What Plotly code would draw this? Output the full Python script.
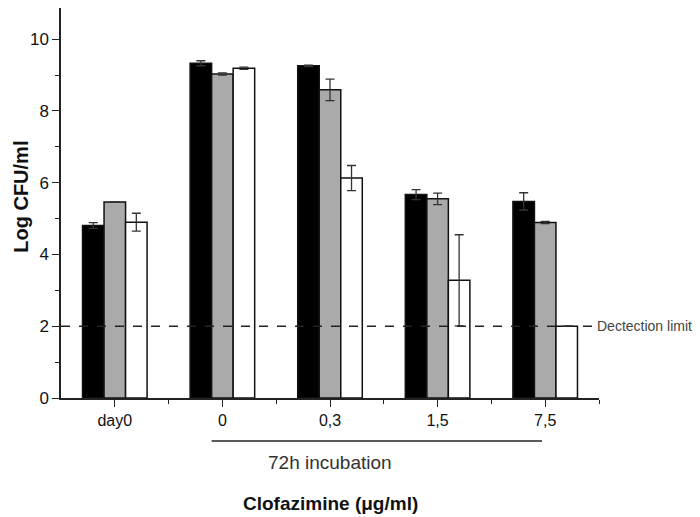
import plotly.graph_objects as go

categories = ["day0", "0", "0,3", "1,5", "7,5"]
black_vals = [4.81, 9.33, 9.26, 5.67, 5.48]
black_err = [0.08, 0.07, 0.02, 0.14, 0.24]
gray_vals = [5.46, 9.03, 8.59, 5.55, 4.89]
gray_err = [0.01, 0.03, 0.30, 0.16, 0.03]
white_vals = [4.90, 9.19, 6.13, 3.28, 2.00]
white_err = [0.25, 0.03, 0.35, 1.27, 0.0]
detection_limit = 2
y_ticks = [0, 2, 4, 6, 8, 10]

xpos = list(range(len(categories)))
FONT = "Arial, Liberation Sans, sans-serif"

# the page body adds an 8px margin, so the figure is sized to fit inside it
W, H = 692, 509
L, R, T, B = 53, 101, 0, 119
plot_h = H - T - B

fig = go.Figure()
for vals, errs, col in [(black_vals, black_err, "black"),
                        (gray_vals, gray_err, "#aaaaaa"),
                        (white_vals, white_err, "white")]:
    fig.add_trace(go.Bar(
        x=xpos, y=vals,
        marker=dict(color=col, line=dict(color="#111111", width=1.5)),
        error_y=dict(type="data", array=errs, visible=True,
                     color="#333333", thickness=1.3, width=4.5),
        showlegend=False,
    ))

fig.update_layout(
    width=W, height=H,
    margin=dict(l=L, r=R, t=T, b=B),
    paper_bgcolor="white", plot_bgcolor="white",
    barmode="group", bargap=0.4, bargroupgap=0,
    font=dict(family=FONT, color="#222222"),
)

fig.update_xaxes(
    range=[-0.5, 4.5], tickvals=xpos, ticktext=categories,
    tickfont=dict(size=16, color="#111111"),
    showline=True, linecolor="#222222", linewidth=1.5,
    ticks="outside", ticklen=7, tickwidth=1.3, tickcolor="#222222",
    minor=dict(tickvals=[0.5, 1.5, 2.5, 3.5, 4.5], ticks="outside",
               ticklen=4, tickwidth=1.3, tickcolor="#222222"),
    showgrid=False, zeroline=False,
)
fig.update_yaxes(
    range=[0, 10.87], tickvals=y_ticks,
    tickfont=dict(size=17, color="#111111"),
    showline=True, linecolor="#222222", linewidth=1.5,
    ticks="outside", ticklen=7, tickwidth=1.3, tickcolor="#222222",
    minor=dict(dtick=1, ticks="outside", ticklen=4, tickwidth=1.3,
               tickcolor="#222222"),
    showgrid=False, zeroline=False,
)

def py(pix):
    # pixel row in the figure -> paper y
    return 1 - (pix - T) / plot_h

# y-axis title
fig.add_annotation(xref="paper", yref="paper", x=-0.0757, y=py(188.5),
                   text="<b>Log CFU/ml</b>", showarrow=False, textangle=-90,
                   xanchor="center", yanchor="middle",
                   font=dict(size=20, color="#111111"))

# detection limit dashed line
fig.add_shape(type="line", xref="x domain", yref="y",
              x0=0, x1=0.989, y0=detection_limit, y1=detection_limit,
              line=dict(color="#222222", width=1.3, dash="dash"))
fig.add_annotation(xref="x domain", yref="y", x=0.992, y=detection_limit,
                   text="Dectection limit", showarrow=False,
                   xanchor="left", yanchor="middle",
                   font=dict(size=14, color="#444444"))

# 72h incubation bracket line
fig.add_shape(type="line", xref="x", yref="paper",
              x0=0.9, x1=3.97, y0=py(433), y1=py(433),
              line=dict(color="#222222", width=1.3))
fig.add_annotation(xref="x", yref="paper", x=2.0, y=py(454),
                   text="72h incubation", showarrow=False,
                   xanchor="center", yanchor="middle",
                   font=dict(size=19, color="#333333"))
fig.add_annotation(xref="paper", yref="paper", x=0.5, y=py(495),
                   text="<b>Clofazimine (\u03bcg/ml)</b>", showarrow=False,
                   xanchor="center", yanchor="middle",
                   font=dict(size=19, color="#111111"))

fig.write_html("out.html")
